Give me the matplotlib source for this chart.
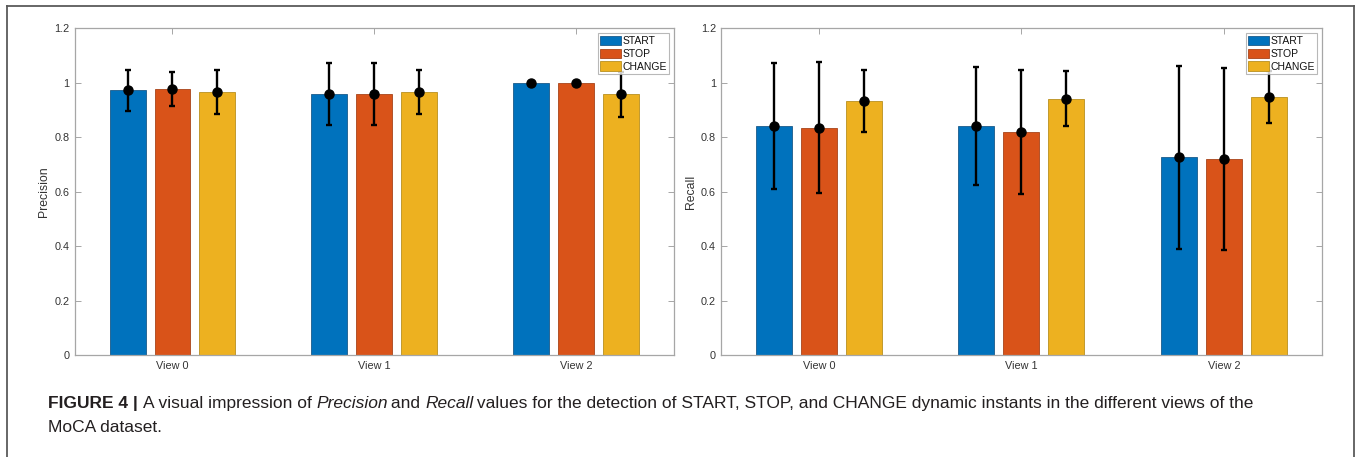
import matplotlib
matplotlib.use("Agg")
import matplotlib.pyplot as plt
from matplotlib.lines import Line2D
import numpy as np

# ---------------- data ----------------
views = ["View 0", "View 1", "View 2"]
series = ["START", "STOP", "CHANGE"]

precision_start = [0.972, 0.957, 1.000]
precision_stop = [0.977, 0.957, 1.000]
precision_change = [0.966, 0.966, 0.957]
precision_start_err = [0.076, 0.114, 0.0]
precision_stop_err = [0.063, 0.114, 0.0]
precision_change_err = [0.079, 0.079, 0.081]

recall_start = [0.841, 0.841, 0.726]
recall_stop = [0.835, 0.819, 0.719]
recall_change = [0.934, 0.942, 0.947]
recall_start_err = [0.231, 0.218, 0.337]
recall_stop_err = [0.241, 0.229, 0.334]
recall_change_err = [0.114, 0.101, 0.095]

yticks = [0, 0.2, 0.4, 0.6, 0.8, 1.0, 1.2]
ytick_labels = ["0", "0.2", "0.4", "0.6", "0.8", "1", "1.2"]

colors = ["#0072BD", "#D95319", "#EDB120"]
edge_colors = ["#1a5a8a", "#a8441a", "#b9901f"]

plt.rcParams["font.family"] = ["Liberation Sans", "DejaVu Sans"]

W, H = 1357, 457
fig = plt.figure(figsize=(W / 100, H / 100), dpi=100)

axis_gray = "#a6a6a6"
text_gray = "#333333"


def draw_panel(ax, vals, errs, ylabel):
    x = np.arange(1, len(views) + 1)
    offsets = [-0.2222, 0.0, 0.2222]
    width = 0.178
    for i, (v, e) in enumerate(zip(vals, errs)):
        ax.bar(x + offsets[i], v, width=width, color=colors[i],
               edgecolor=edge_colors[i], linewidth=0.6, label=series[i], zorder=2)
    for i, (v, e) in enumerate(zip(vals, errs)):
        ax.errorbar(x + offsets[i], v, yerr=e, fmt="o", color="black",
                    ecolor="black", elinewidth=1.7, capsize=1.9, capthick=1.7,
                    markersize=6.5, zorder=3)
    ax.set_xlim(0.515, 3.485)
    ax.set_ylim(0, 1.2)
    ax.set_xticks(x)
    ax.set_xticklabels(views)
    ax.set_yticks(yticks)
    ax.set_yticklabels(ytick_labels)
    ax.tick_params(direction="in", length=4, width=0.7, color=axis_gray,
                   labelsize=7.8, labelcolor=text_gray, top=True, right=True,
                   pad=3.5)
    ax.tick_params(axis="x", pad=4)
    for s in ax.spines.values():
        s.set_color(axis_gray)
        s.set_linewidth(0.9)
    ax.set_ylabel(ylabel, fontsize=8.8, color=text_gray, labelpad=3)
    leg = ax.legend(loc="upper right", fontsize=7.5, frameon=True, fancybox=False,
                    handlelength=1.95, handleheight=1.0, handletextpad=0.15,
                    labelspacing=0.26, borderpad=0.25, borderaxespad=0.45)
    leg.get_frame().set_edgecolor(axis_gray)
    leg.get_frame().set_linewidth(0.8)
    for t in leg.get_texts():
        t.set_color("#111111")


ax1 = fig.add_axes([74.6 / W, (H - 355) / H, (674 - 74.6) / W, (355 - 28.3) / H])
ax2 = fig.add_axes([720.7 / W, (H - 355) / H, (1322 - 720.7) / W, (355 - 28.3) / H])

draw_panel(ax1, [precision_start, precision_stop, precision_change],
           [precision_start_err, precision_stop_err, precision_change_err], "Precision")
draw_panel(ax2, [recall_start, recall_stop, recall_change],
           [recall_start_err, recall_stop_err, recall_change_err], "Recall")

# outer frame (top, left, right)
frame_col = "#5a5a5a"
fig.add_artist(Line2D([7 / W, 1354 / W], [1 - 6 / H, 1 - 6 / H], color=frame_col, lw=1.3,
                      transform=fig.transFigure))
fig.add_artist(Line2D([7 / W, 7 / W], [1 - 6 / H, 0], color=frame_col, lw=1.3,
                      transform=fig.transFigure))
fig.add_artist(Line2D([1354 / W, 1354 / W], [1 - 6 / H, 0], color=frame_col, lw=1.3,
                      transform=fig.transFigure))

# caption with mixed styles
cap_family = ["Liberation Sans", "DejaVu Sans"]
cap_size = 12.5
cap_color = "#231f20"
line1 = [("FIGURE 4 | ", "bold", "normal"),
         ("A visual impression of ", "normal", "normal"),
         ("Precision", "normal", "italic"),
         (" and ", "normal", "normal"),
         ("Recall", "normal", "italic"),
         (" values for the detection of START, STOP, and CHANGE dynamic instants in the different views of the",
          "normal", "normal")]
line2 = [("MoCA dataset.", "normal", "normal")]

renderer = fig.canvas.get_renderer()


def place_line(pieces, x0_px, y_px):
    x = x0_px
    for txt, weight, style in pieces:
        t = fig.text(x / W, 1 - y_px / H, txt, fontsize=cap_size, fontweight=weight,
                     fontstyle=style, family=cap_family, color=cap_color,
                     va="baseline", ha="left")
        bb = t.get_window_extent(renderer=renderer)
        x = bb.x1 - (1.5 if style == "italic" else 0)


place_line(line1, 48, 408)
place_line(line2, 48, 432)

fig.savefig("out.png", dpi=100)
